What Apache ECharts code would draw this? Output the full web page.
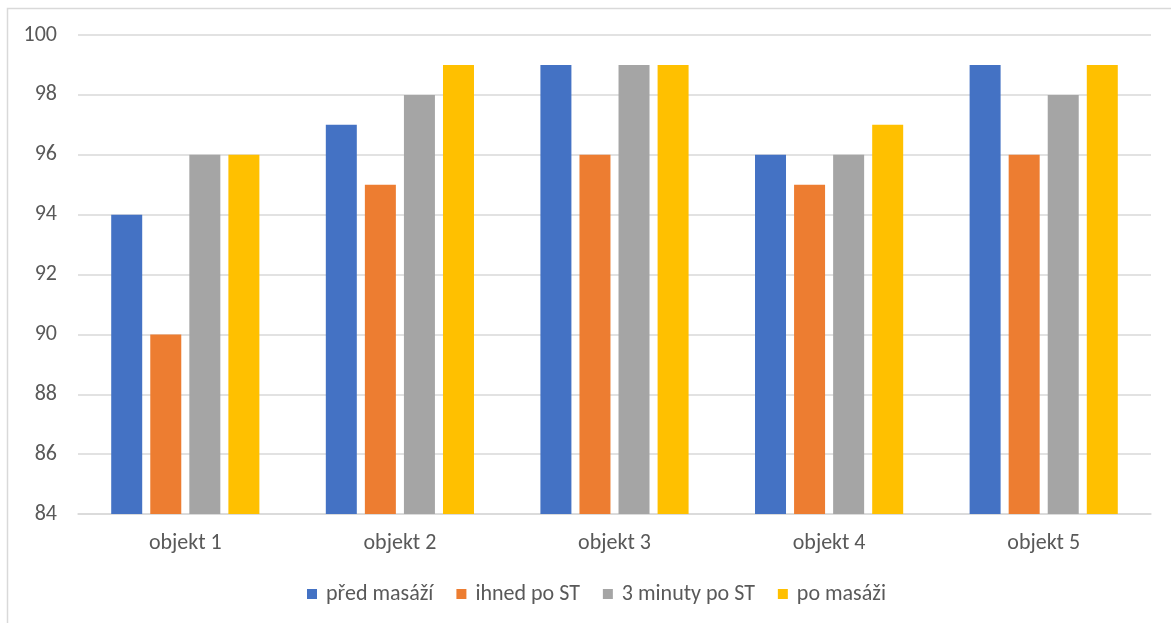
<!DOCTYPE html>
<html>
<head>
<meta charset="utf-8">
<script src="https://cdn.jsdelivr.net/npm/echarts@6/dist/echarts.min.js"></script>
<style>
  html, body { margin: 0; padding: 0; background: #fff; }
  #chart { width: 1171px; height: 623px; }
</style>
</head>
<body>
<div id="chart"></div>
<script>
// Oxygen saturation per subject, measured at four points in time
const categories = ['objekt 1', 'objekt 2', 'objekt 3', 'objekt 4', 'objekt 5'];
const seriesNames = ['před masáží', 'ihned po ST', '3 minuty po ST', 'po masáži'];
const predMasazi = [94, 97, 99, 96, 99];
const ihnedPoST = [90, 95, 96, 95, 96];
const triMinutyPoST = [96, 98, 99, 96, 98];
const poMasazi = [96, 99, 99, 97, 99];
const colors = ['#4472C4', '#ED7D31', '#A5A5A5', '#FFC000'];

const values = [predMasazi, ihnedPoST, triMinutyPoST, poMasazi];
const font = "Carlito, 'Open Sans', 'Noto Sans', sans-serif";
const textColor = '#595959';

const chart = echarts.init(document.getElementById('chart'), null, { renderer: 'canvas' });
chart.setOption({
  animation: false,
  backgroundColor: '#ffffff',
  color: colors,
  textStyle: { fontFamily: font },
  graphic: [{
    type: 'rect',
    shape: { x: 7.5, y: 8.5, width: 1180, height: 640 },
    style: { fill: 'none', stroke: '#d9d9d9', lineWidth: 1.5 },
    silent: true
  }],
  grid: { left: 78, right: 20, top: 35, bottom: 109, containLabel: false },
  legend: {
    top: 578,
    left: 302,
    itemWidth: 10,
    itemHeight: 10,
    itemGap: 23,
    icon: 'rect',
    textStyle: { color: textColor, fontSize: 22, fontFamily: font, padding: [0, 0, 0, 4] },
    data: seriesNames
  },
  xAxis: {
    type: 'category',
    data: categories,
    axisLine: { lineStyle: { color: '#d9d9d9', width: 1.5 } },
    axisTick: { show: false },
    axisLabel: { color: textColor, fontSize: 22, margin: 18, fontFamily: font }
  },
  yAxis: {
    type: 'value',
    min: 84,
    max: 100,
    interval: 2,
    axisLine: { show: false },
    axisTick: { show: false },
    splitLine: { lineStyle: { color: '#d9d9d9', width: 1.5 } },
    axisLabel: { color: textColor, fontSize: 22, margin: 21, fontFamily: font }
  },
  series: seriesNames.map((name, i) => ({
    name: name,
    type: 'bar',
    data: values[i],
    barWidth: 31,
    barGap: '26%',
    itemStyle: { color: colors[i] }
  }))
});
</script>
</body>
</html>
